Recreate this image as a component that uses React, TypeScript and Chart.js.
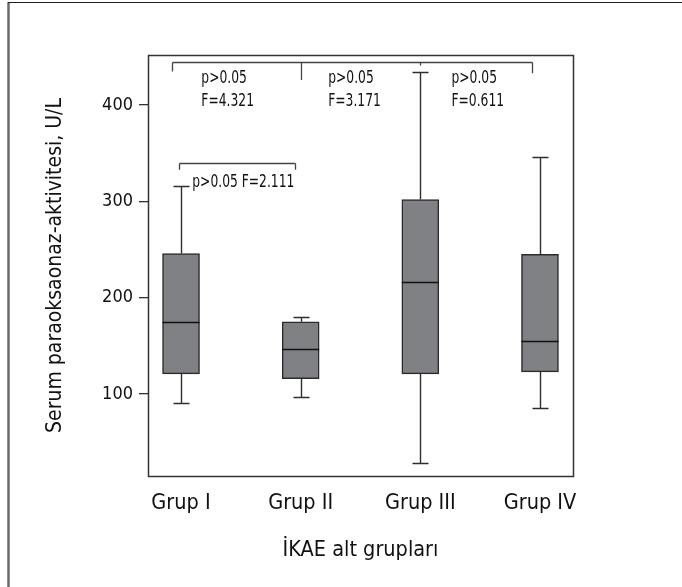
import React, { useEffect, useRef } from "react";
import { Chart, registerables } from "chart.js";

Chart.register(...registerables);

// ---- data ----
const groups = ["Grup I", "Grup II", "Grup III", "Grup IV"];
const groupPositions = [1, 2, 3, 4];
const whiskerLow = [91, 97, 29, 86];
const quartile1 = [121, 116, 121, 123];
const medians = [175, 147, 216, 155];
const quartile3 = [246, 175, 302, 245];
const whiskerHigh = [316, 180, 434, 346];
const yTickValues = [100, 200, 300, 400];
const yAxisTitle = "Serum paraoksaonaz-aktivitesi, U/L";
const xAxisTitle = "İKAE alt grupları";

// comparison annotations (data units)
const overallTests = [
  ["p>0.05", "F=4.321"],
  ["p>0.05", "F=3.171"],
  ["p>0.05", "F=0.611"],
];
const overallTextX = [1.17, 2.23, 3.26];
const overallTextY = [423, 399];
const overallBracketY = 445;
const overallBracketDrops = [
  { x: 0.922, to: 435 },
  { x: 2, to: 426 },
  { x: 3, to: 441 },
  { x: 3.935, to: 433 },
];
const pairTest = "p>0.05 F=2.111";
const pairTextPos = { x: 1.094, y: 315 };
const pairBracketY = 340;
const pairBracketDrops = [
  { x: 0.983, to: 333 },
  { x: 1.955, to: 333 },
];

const FONT = "'Liberation Sans Narrow', 'Arial Narrow', 'DejaVu Sans Condensed', sans-serif";

const px = (v: number) => Math.round(v) + 0.5;

const decorPlugin = {
  id: "decor",
  beforeDraw(chart: any) {
    const { ctx, width, height } = chart;
    ctx.save();
    ctx.fillStyle = "#ffffff";
    ctx.fillRect(0, 0, width, height);
    ctx.strokeStyle = "#6b6b6b";
    ctx.lineWidth = 2.5;
    ctx.beginPath();
    ctx.moveTo(8.5, 2);
    ctx.lineTo(8.5, height);
    ctx.stroke();
    ctx.strokeStyle = "#1e1e1e";
    ctx.lineWidth = 1;
    ctx.beginPath();
    ctx.moveTo(8, 2.5);
    ctx.lineTo(width, 2.5);
    ctx.stroke();
    ctx.restore();
  },
  afterDatasetsDraw(chart: any) {
    const { ctx } = chart;
    const x = chart.scales.x;
    const y = chart.scales.y;
    const meta = chart.getDatasetMeta(0);
    ctx.save();
    groupPositions.forEach((gp, i) => {
      const cx = px(x.getPixelForValue(gp));
      const el: any = meta.data[i];
      const half = el && el.width ? el.width / 2 : 18;
      const capHalf = 8;
      const yLo = px(y.getPixelForValue(whiskerLow[i]));
      const yQ1 = y.getPixelForValue(quartile1[i]);
      const yMed = px(y.getPixelForValue(medians[i]));
      const yQ3 = y.getPixelForValue(quartile3[i]);
      const yHi = px(y.getPixelForValue(whiskerHigh[i]));
      ctx.strokeStyle = "#2e2e2e";
      ctx.lineWidth = 1.4;
      ctx.beginPath();
      ctx.moveTo(cx, yQ3);
      ctx.lineTo(cx, yHi);
      ctx.moveTo(cx - capHalf, yHi);
      ctx.lineTo(cx + capHalf, yHi);
      ctx.moveTo(cx, yQ1);
      ctx.lineTo(cx, yLo);
      ctx.moveTo(cx - capHalf, yLo);
      ctx.lineTo(cx + capHalf, yLo);
      ctx.stroke();
      ctx.strokeStyle = "#111111";
      ctx.lineWidth = 1.6;
      ctx.beginPath();
      ctx.moveTo(el.x - half, yMed);
      ctx.lineTo(el.x + half, yMed);
      ctx.stroke();
    });
    ctx.restore();
  },
  afterDraw(chart: any) {
    const { ctx, chartArea } = chart;
    const x = chart.scales.x;
    const y = chart.scales.y;
    ctx.save();
    ctx.strokeStyle = "#333333";
    ctx.lineWidth = 1.5;
    ctx.strokeRect(
      px(chartArea.left),
      px(chartArea.top),
      Math.round(chartArea.right - chartArea.left),
      Math.round(chartArea.bottom - chartArea.top)
    );
    ctx.strokeStyle = "#444444";
    ctx.lineWidth = 1.3;
    const drawBracket = (yv: number, drops: { x: number; to: number }[]) => {
      const yy = px(y.getPixelForValue(yv));
      const xs = drops.map((d) => px(x.getPixelForValue(d.x)));
      ctx.beginPath();
      ctx.moveTo(Math.min(...xs), yy);
      ctx.lineTo(Math.max(...xs), yy);
      drops.forEach((d, k) => {
        ctx.moveTo(xs[k], yy);
        ctx.lineTo(xs[k], y.getPixelForValue(d.to));
      });
      ctx.stroke();
    };
    drawBracket(overallBracketY, overallBracketDrops);
    drawBracket(pairBracketY, pairBracketDrops);
    ctx.fillStyle = "#111111";
    ctx.font = `18px ${FONT}`;
    ctx.textAlign = "left";
    ctx.textBaseline = "alphabetic";
    const squeeze = 0.76;
    const drawText = (t: string, tx: number, ty: number) => {
      ctx.save();
      ctx.translate(tx, ty);
      ctx.scale(squeeze, 1);
      ctx.fillText(t, 0, 0);
      ctx.restore();
    };
    overallTests.forEach((lines, i) => {
      const tx = x.getPixelForValue(overallTextX[i]);
      lines.forEach((t, k) => drawText(t, tx, y.getPixelForValue(overallTextY[k])));
    });
    drawText(pairTest, x.getPixelForValue(pairTextPos.x), y.getPixelForValue(pairTextPos.y));
    ctx.restore();
  },
};

export default function App() {
  const ref = useRef<HTMLCanvasElement>(null);
  useEffect(() => {
    const canvas = ref.current;
    if (!canvas) return;
    const chart = new Chart(canvas, {
      type: "bar",
      data: {
        datasets: [
          {
            data: groupPositions.map((p, i) => ({ x: p, y: [quartile1[i], quartile3[i]] })) as any,
            backgroundColor: "#808184",
            borderColor: "#2b2b2b",
            borderWidth: 1.5,
            borderSkipped: false,
            barThickness: 37,
          },
        ],
      },
      options: {
        responsive: false,
        animation: false,
        devicePixelRatio: 1,
        layout: { padding: { top: 55, right: 109, bottom: 0, left: 0 } },
        plugins: { legend: { display: false }, tooltip: { enabled: false } },
        scales: {
          x: {
            type: "linear",
            offset: false,
            min: 0.724,
            max: 4.276,
            grid: { display: false, drawTicks: false },
            border: { display: false },
            afterBuildTicks: (s: any) => {
              s.ticks = groupPositions.map((v) => ({ value: v }));
            },
            afterFit: (s: any) => {
              s.height = 111;
            },
            ticks: {
              callback: (v: any) => groups[groupPositions.indexOf(Number(v))] ?? "",
              padding: 15,
              autoSkip: false,
              maxRotation: 0,
              color: "#111111",
              font: { family: FONT, size: 21.5 },
            },
            title: {
              display: true,
              text: xAxisTitle,
              color: "#111111",
              font: { family: FONT, size: 21.5 },
              padding: { top: 0, bottom: 24 },
            },
          },
          y: {
            type: "linear",
            min: 15,
            max: 452,
            afterBuildTicks: (s: any) => {
              s.ticks = yTickValues.map((v) => ({ value: v }));
            },
            afterFit: (s: any) => {
              s.width = 148;
            },
            grid: { drawOnChartArea: false, drawTicks: true, tickLength: 9, color: "#333333", lineWidth: 1.3 },
            border: { display: false },
            ticks: { padding: 6, color: "#111111", font: { family: FONT, size: 18 } },
            title: {
              display: true,
              text: yAxisTitle,
              color: "#111111",
              font: { family: FONT, size: 21 },
              padding: { top: 43, bottom: 0 },
            },
          },
        },
      } as any,
      plugins: [decorPlugin],
    });
    return () => chart.destroy();
  }, []);
  return (
    <div style={{ position: "absolute", left: 0, top: 0, width: 682, height: 587 }}>
      <canvas ref={ref} width={682} height={587} style={{ display: "block", width: 682, height: 587 }} />
    </div>
  );
}
